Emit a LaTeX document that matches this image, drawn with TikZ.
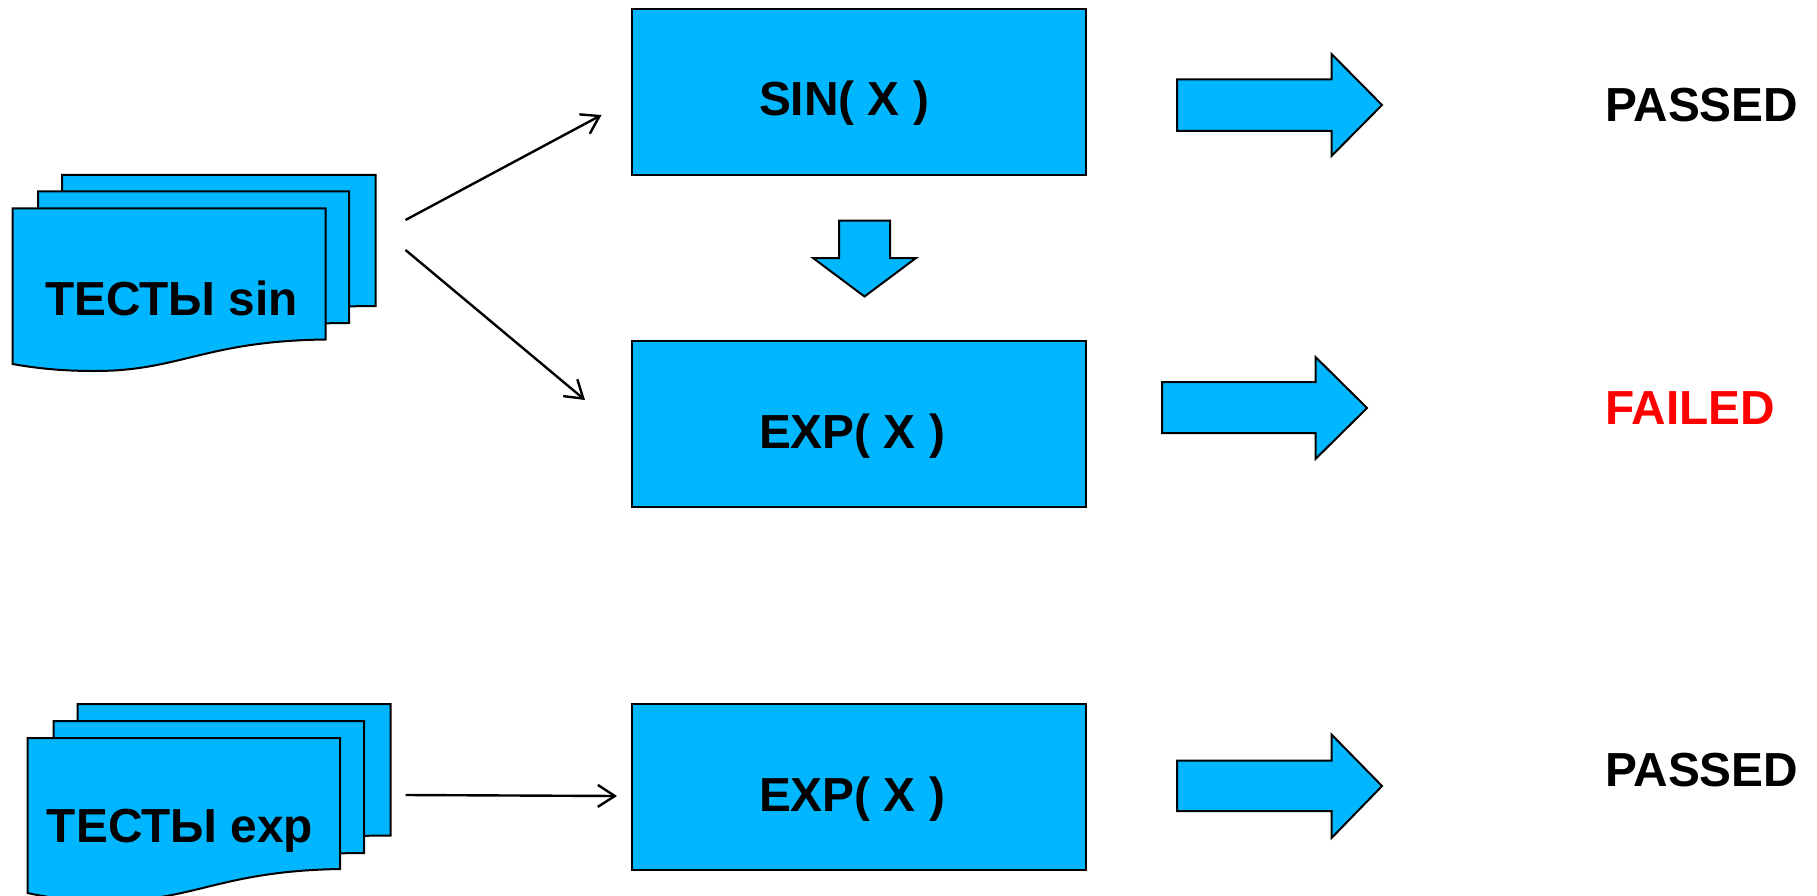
\documentclass[tikz,border=0pt]{standalone}
\usepackage{fontspec}
\setmainfont{Liberation Sans}
\definecolor{fillblue}{HTML}{00B6FF}
\tikzset{
  shapefill/.style={draw=black,fill=fillblue,line width=2pt,line join=miter},
  boxnode/.style={shapefill,minimum width=454pt,minimum height=166pt,inner sep=0pt},
  lbl/.style={font=\fontsize{47.8}{56}\selectfont\bfseries,inner sep=0pt,text=black},
  thinarrow/.style={draw=black,line width=2.4pt,-{Straight Barb[length=17pt,width=22pt,line width=2.4pt]}}
}
\usetikzlibrary{arrows.meta}
\begin{document}
\begin{tikzpicture}[x=1pt,y=-1pt]
\useasboundingbox (0,0) rectangle (1817,896);
\clip (0,0) rectangle (1817,896);
% boxes
\node[boxnode] (sinbox) at (859,92) {};
\node[boxnode] (expbox) at (859,424) {};
\node[boxnode] (expbox2) at (859,787) {};
\node[lbl] (sinlbl) at (844,103.5) {SIN( X )};
\node[lbl] (explbl) at (852,436) {EXP( X )};
\node[lbl] (explbl2) at (852,799) {EXP( X )};
% sin documents
\draw[shapefill] (62,175) -- (375.5,175) -- (375.5,306) -- (62,310) -- cycle;
\draw[shapefill] (38,191.5) -- (349,191.5) -- (349,323) -- (38,327) -- cycle;
\draw[shapefill] (12.5,208.5) -- (325.5,208.5) -- (325.5,339.5)
  .. controls (205,341) and (180,371) .. (95,371)
  .. controls (60,371) and (35,368) .. (12.5,364) -- cycle;
\node[lbl] (sindoc) at (171.5,298) {ТЕСТЫ sin};
% exp documents
\draw[shapefill] (77.5,704) -- (390.5,704) -- (390.5,835.5) -- (77.5,839) -- cycle;
\draw[shapefill] (53.5,721) -- (364,721) -- (364,853) -- (53.5,857) -- cycle;
\draw[shapefill] (27.5,738) -- (340,738) -- (340,869)
  .. controls (220,871) and (195,901) .. (110,901)
  .. controls (75,901) and (50,898) .. (27.5,893) -- cycle;
\node[lbl] (expdoc) at (180,831) {ТЕСТЫ exp};
% thin connectors
\coordinate (a1s) at (405.5,220);
\coordinate (a1e) at (601.5,115);
\coordinate (a2s) at (405.5,250);
\coordinate (a2e) at (585,400);
\coordinate (a3s) at (405.5,795);
\coordinate (a3e) at (617,796);
\draw[thinarrow] (a1s) -- (a1e);
\draw[thinarrow] (a2s) -- (a2e);
\draw[thinarrow] (a3s) -- (a3e);
% block arrows
\draw[shapefill] (1177,79.5) -- (1331.5,79.5) -- (1331.5,54) -- (1382,105) -- (1331.5,156) -- (1331.5,131) -- (1177,131) -- cycle;
\draw[shapefill] (1162,382) -- (1315.5,382) -- (1315.5,357) -- (1367,408) -- (1315.5,459) -- (1315.5,433) -- (1162,433) -- cycle;
\draw[shapefill] (1177,760.5) -- (1331.5,760.5) -- (1331.5,734.5) -- (1382,786) -- (1331.5,838) -- (1331.5,811) -- (1177,811) -- cycle;
\draw[shapefill] (839,220.5) -- (890,220.5) -- (890,258) -- (916,258) -- (864.5,296.5) -- (813,258) -- (839,258) -- cycle;
% results
\node[lbl,anchor=west] (r1) at (1605,105) {PASSED};
\node[lbl,anchor=west,text=red] (r2) at (1605,408) {FAILED};
\node[lbl,anchor=west] (r3) at (1605,770) {PASSED};
\end{tikzpicture}
\end{document}
